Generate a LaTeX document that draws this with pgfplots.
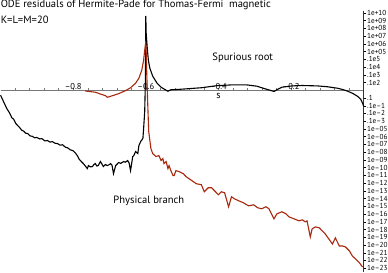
\documentclass[border=0pt]{standalone}
\usepackage{pgfplots}
\pgfplotsset{compat=1.18}
\usepackage{fontspec}
\setmainfont{PT Sans}
\definecolor{physred}{RGB}{168,40,14}
\definecolor{axgray}{RGB}{120,120,120}
\begin{document}
\begin{tikzpicture}
\begin{axis}[
  scale only axis,
  width=361pt, height=260pt,
  xmin=-1, xmax=0, ymin=-23.5, ymax=10.3,
  axis x line=middle,
  axis y line=right,
  x axis line style={-, axgray, line width=0.6pt},
  y axis line style={-, black!80, line width=0.5pt},
  xtick={-0.8,-0.6,-0.4,-0.2},
  xticklabels={–0.8,–0.6,–0.4,–0.2},
  minor xtick={-0.96,-0.92,-0.88,-0.84,-0.76,-0.72,-0.68,-0.64,-0.56,-0.52,-0.48,-0.44,-0.36,-0.32,-0.28,-0.24,-0.16,-0.12,-0.08,-0.04},
  xticklabel style={anchor=south, font=\fontsize{8.5}{9}\selectfont, inner sep=0pt, yshift=2.2pt},
  tick align=center,
  major tick length=2.6pt,
  minor tick length=2.6pt,
  xtick style={yshift=1.3pt, axgray, line width=0.4pt},
  ytick style={xshift=1.3pt, black, line width=0.4pt},
  ytick={-23,-22,-21,-20,-19,-18,-17,-16,-15,-14,-13,-12,-11,-10,-9,-8,-7,-6,-5,-4,-3,-2,-1,1,2,3,4,5,6,7,8,9,10},
  yticklabels={1e–23,1e–22,1e–21,1e–20,1e–19,1e–18,1e–17,1e–16,1e–15,1e–14,1e–13,1e–12,1e–11,1e–10,1e–09,1e–08,1e–07,1e–06,1e–05,.1e–3,.1e–2,.1e–1,.1,.1e2,.1e3,.1e4,.1e5,1e+05,1e+06,1e+07,1e+08,1e+09,1e+10},
  yticklabel style={anchor=west, font=\fontsize{7.2}{8}\selectfont, inner sep=0.5pt, xshift=1.5pt},
  clip=false,
]
% black curve (spurious root), values are log10 of residual
\addplot[black, line width=1.1pt] table[x=s, y=l] {
s l
-1.000 -0.65
-0.997 -0.95
-0.994 -1.25
-0.989 -1.75
-0.983 -2.35
-0.975 -2.95
-0.969 -3.55
-0.964 -3.75
-0.958 -4.30
-0.953 -4.55
-0.947 -4.85
-0.942 -5.15
-0.936 -5.30
-0.931 -5.55
-0.925 -5.60
-0.919 -5.90
-0.913 -5.95
-0.906 -6.15
-0.900 -6.10
-0.892 -6.30
-0.886 -6.25
-0.878 -6.55
-0.871 -6.50
-0.864 -6.70
-0.857 -6.65
-0.850 -6.85
-0.843 -6.90
-0.836 -7.10
-0.829 -7.05
-0.822 -7.35
-0.815 -7.45
-0.808 -7.70
-0.801 -7.80
-0.794 -8.10
-0.788 -8.50
-0.783 -8.96
-0.772 -9.48
-0.761 -10.13
-0.758 -9.74
-0.753 -9.90
-0.747 -9.87
-0.743 -9.60
-0.739 -9.48
-0.735 -9.80
-0.731 -9.74
-0.725 -9.22
-0.720 -9.60
-0.717 -9.87
-0.711 -9.60
-0.706 -9.74
-0.700 -9.60
-0.697 -9.48
-0.693 -9.70
-0.689 -10.78
-0.683 -9.74
-0.679 -9.55
-0.675 -9.35
-0.669 -9.45
-0.661 -9.22
-0.656 -9.30
-0.650 -9.09
-0.646 -9.40
-0.642 -10.39
-0.636 -8.57
-0.633 -8.44
-0.628 -7.92
-0.622 -8.18
-0.619 -7.14
-0.614 -6.62
-0.608 -6.23
-0.606 -4.94
-0.603 -2.73
-0.601 1.56
-0.600 9.61
-0.599 7.40
-0.596 5.45
-0.593 3.90
-0.589 2.86
-0.581 1.82
-0.569 0.91
-0.558 0.39
-0.544 0.00
-0.539 -0.13
-0.531 0.06
-0.503 0.13
-0.447 0.32
-0.406 0.58
-0.364 0.69
-0.322 0.69
-0.294 0.52
-0.272 0.19
-0.258 0.00
-0.247 -0.16
-0.239 0.06
-0.225 0.39
-0.197 0.56
-0.169 0.61
-0.128 0.56
-0.100 0.45
-0.072 0.26
-0.058 0.09
-0.044 -0.13
-0.031 -0.39
-0.017 -0.78
-0.008 -1.17
-0.003 -1.69
0.000 -2.08
};
% red curve (physical branch)
\addplot[physred, line width=1.1pt] table[x=s, y=l] {
s l
-0.767 -0.09
-0.739 -0.26
-0.711 -0.71
-0.706 -0.91
-0.692 -0.71
-0.675 -0.45
-0.656 -0.06
-0.642 0.32
-0.628 0.91
-0.619 1.56
-0.611 2.60
-0.606 3.90
-0.603 5.20
-0.6005 6.10
-0.5995 5.84
-0.597 1.56
-0.594 -2.73
-0.592 -5.32
-0.586 -7.53
-0.581 -8.18
-0.572 -8.57
-0.564 -8.44
-0.558 -9.09
-0.553 -8.83
-0.550 -9.48
-0.544 -9.22
-0.539 -10.13
-0.536 -9.74
-0.531 -10.39
-0.525 -11.04
-0.522 -11.04
-0.517 -10.39
-0.508 -10.52
-0.497 -10.78
-0.489 -11.17
-0.481 -11.43
-0.469 -11.82
-0.461 -12.08
-0.447 -12.21
-0.439 -13.12
-0.428 -12.60
-0.419 -12.60
-0.400 -13.51
-0.392 -13.12
-0.383 -13.25
-0.372 -15.06
-0.364 -13.77
-0.356 -14.03
-0.344 -14.29
-0.331 -14.55
-0.317 -14.94
-0.303 -14.81
-0.292 -15.19
-0.281 -15.32
-0.269 -15.06
-0.261 -15.32
-0.247 -16.62
-0.239 -15.97
-0.225 -15.71
-0.214 -15.97
-0.206 -16.36
-0.192 -16.62
-0.178 -16.88
-0.169 -16.75
-0.161 -17.01
-0.156 -16.88
-0.147 -18.96
-0.142 -17.92
-0.133 -17.66
-0.122 -17.79
-0.114 -18.18
-0.106 -18.57
-0.094 -19.35
-0.086 -19.87
-0.078 -19.09
-0.067 -20.13
-0.058 -20.13
-0.050 -20.26
-0.039 -20.78
-0.031 -21.43
-0.022 -21.82
-0.011 -22.34
-0.003 -22.86
};
\node[anchor=base west, inner sep=0pt, font=\fontsize{10.5}{12}\selectfont] at ([yshift=3pt]rel axis cs:0,1) {ODE residuals of Hermite-Pade for Thomas-Fermi\ \ magnetic};
\node[anchor=base west, inner sep=0pt, font=\fontsize{10.5}{12}\selectfont] at ([yshift=-13pt]rel axis cs:0,1) {K=L=M=20};
\node[font=\fontsize{10.5}{12}\selectfont] at (axis cs:-0.333,4.2) {Spurious root};
\node[font=\fontsize{10.5}{12}\selectfont] at (axis cs:-0.5917,-14.27) {Physical branch};
\node[anchor=north, font=\fontsize{10}{11}\selectfont, inner sep=0pt] at ([yshift=-2.5pt]axis cs:-0.4,0) {s};
\end{axis}
\end{tikzpicture}
\end{document}
